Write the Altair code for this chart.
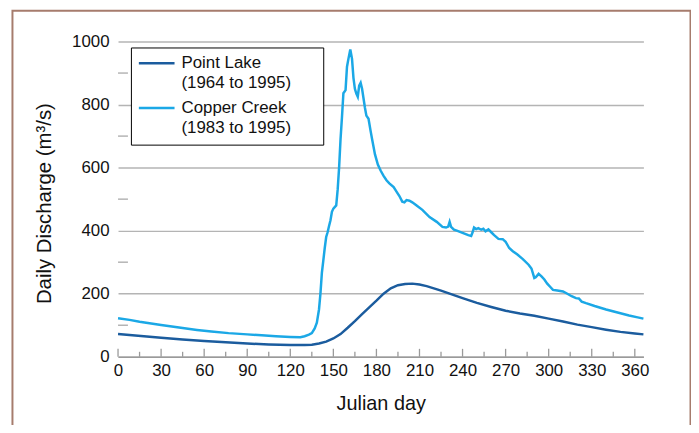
import altair as alt
import pandas as pd

FONT = "Liberation Sans, Arial, Helvetica, sans-serif"

series_names = ["Point Lake", "Copper Creek"]
series_periods = ["(1964 to 1995)", "(1983 to 1995)"]
series_colors = ["#1b5c9e", "#1ba8e6"]

pl_day = [0, 10, 20, 30, 45, 60, 75, 90, 105, 120, 130, 135, 140, 145, 150, 155, 160,
          165, 170, 175, 180, 185, 190, 195, 200, 205, 210, 215, 220, 225, 230, 235,
          240, 250, 260, 270, 280, 290, 300, 310, 320, 330, 340, 350, 360, 366]
pl_q = [72, 68, 64, 60, 55, 50, 46, 42, 39, 37, 37, 38, 42, 48, 58, 72, 92,
        113, 135, 157, 178, 200, 217, 227, 231, 232, 229, 224, 217, 210, 202, 194,
        186, 171, 158, 146, 137, 130, 121, 112, 102, 94, 86, 79, 74, 71]

cc_day = [0, 8, 15, 30, 45, 55, 65, 77, 90, 100, 110, 120, 127, 130, 133, 135, 137,
          138.5, 140, 141, 142, 143, 144, 145, 146, 147, 148, 149, 150, 152, 153, 154,
          155, 156, 157, 158.5, 159.5, 160.5, 161.8, 163, 164, 165, 166, 167, 168, 169,
          170, 171, 172, 173, 174.5, 176, 177, 179, 181, 183, 185, 187, 189, 192, 194,
          196, 198, 199.5, 201, 203, 205, 208, 212, 217, 222, 226, 228.5, 230, 231, 232,
          234, 236, 240, 244, 246, 247, 248, 249.5, 251, 253, 254.5, 256, 258, 260, 262,
          265, 268, 270, 272.5, 275, 278, 282, 286, 288, 290, 291, 293, 295, 297, 299,
          301, 303, 306, 310, 313, 316, 319, 321, 323, 326, 332, 340, 344, 350, 356, 362, 366]
cc_q = [122, 117, 111, 101, 91, 85, 80, 75, 71, 68, 65, 63, 62, 65, 70, 75, 90,
        108, 150, 200, 266, 305, 345, 380, 395, 415, 433, 460, 470, 480, 530, 600,
        690, 760, 836, 846, 920, 945, 975, 945, 885, 850, 835, 825, 860, 869,
        850, 820, 790, 765, 755, 715, 690, 642, 610, 590, 574, 560, 550, 538, 524,
        510, 492, 490, 497, 495, 490, 480, 466, 443, 428, 412, 410, 413, 428, 412,
        403, 400, 393, 386, 383, 395, 410, 405, 408, 403, 406, 398, 404, 395, 386,
        374, 373, 365, 345, 335, 325, 310, 292, 280, 250, 252, 263, 255, 245, 232,
        222, 212, 210, 207, 200, 192, 186, 185, 175, 170, 161, 150, 145, 138, 131, 125, 121]

x_ticks = [0, 30, 60, 90, 120, 150, 180, 210, 240, 270, 300, 330, 360]
x_minor = [15, 45, 75, 105, 135, 165, 195, 225, 255, 285, 315, 345]
y_ticks = [0, 200, 400, 600, 800, 1000]
y_minor = [100, 300, 500, 700, 900]

W, H = 530, 318
GRID = "#b4b4b4"
AXIS = "#9a9a9a"
TEXT = "#111111"

df = pd.concat([
    pd.DataFrame({"day": pl_day, "q": pl_q, "series": series_names[0]}),
    pd.DataFrame({"day": cc_day, "q": cc_q, "series": series_names[1]}),
])

x_enc = alt.X("day:Q", scale=alt.Scale(domain=[0, 366], nice=False, zero=False),
              axis=alt.Axis(values=x_ticks, title="Julian day", grid=False, ticks=False,
                            domainColor=AXIS, domainWidth=1.5, labelPadding=6,
                            labelFontSize=17, titleFontSize=20, titlePadding=15,
                            labelFlush=False))
y_enc = alt.Y("q:Q", scale=alt.Scale(domain=[0, 1000], nice=False),
              axis=alt.Axis(values=y_ticks, format="d", title="Daily Discharge (m³/s)",
                            grid=True, gridColor=GRID, gridWidth=1.5, ticks=False,
                            domain=False, labelPadding=9, labelFontSize=17,
                            titleFontSize=20.5, titlePadding=17, titleY=163))

one = alt.Data(values=[{}])

frame = alt.Chart(one).mark_rect(
    filled=False, stroke="#a67c6d", strokeWidth=2
).encode(x=alt.value(-106.5), x2=alt.value(577.5), y=alt.value(-31), y2=alt.value(520))

lines = alt.Chart(df).mark_line(strokeWidth=2.5).encode(
    x=x_enc,
    y=y_enc,
    color=alt.Color("series:N", legend=None,
                    scale=alt.Scale(domain=series_names, range=series_colors)),
    order=alt.Order("day:Q"),
)

major = alt.Chart(pd.DataFrame({"day": x_ticks})).mark_rule(color=AXIS, strokeWidth=1.3).encode(
    x="day:Q", y=alt.value(H), y2=alt.value(H - 8))
minor = alt.Chart(pd.DataFrame({"day": x_minor})).mark_rule(color=AXIS, strokeWidth=1.3).encode(
    x="day:Q", y=alt.value(H), y2=alt.value(H - 5))
yminor = alt.Chart(pd.DataFrame({"q": y_minor})).mark_rule(color=GRID, strokeWidth=1.5).encode(
    y="q:Q", x=alt.value(0), x2=alt.value(10))

# legend box (drawn on top of gridlines)
legend_layers = [
    alt.Chart(one).mark_rect(fill="white", stroke="black", strokeWidth=1).encode(
        x=alt.value(13.5), x2=alt.value(207.5), y=alt.value(6.5), y2=alt.value(104.5))
]
for i, (name, period, col) in enumerate(zip(series_names, series_periods, series_colors)):
    y0 = 22 + 45 * i
    legend_layers.append(
        alt.Chart(one).mark_rule(color=col, strokeWidth=2.5).encode(
            x=alt.value(21), x2=alt.value(57), y=alt.value(y0)))
    legend_layers.append(
        alt.Chart(one).mark_text(align="left", baseline="middle", fontSize=17, font=FONT,
                                 color=TEXT, text=name).encode(
            x=alt.value(64), y=alt.value(y0)))
    legend_layers.append(
        alt.Chart(one).mark_text(align="left", baseline="middle", fontSize=17, font=FONT,
                                 color=TEXT, text=period).encode(
            x=alt.value(64), y=alt.value(y0 + 20)))

chart = alt.layer(frame, yminor, major, minor, lines, *legend_layers).properties(
    width=W, height=H,
    autosize=alt.AutoSizeParams(type="none"),
    padding={"left": 111, "top": 32, "right": 48, "bottom": 67},
).configure(font=FONT).configure_view(stroke=None).configure_axis(
    labelColor=TEXT, titleColor=TEXT, titleFontWeight="normal", labelFont=FONT, titleFont=FONT
)

chart.save("out.html", embed_options={"renderer": "svg", "actions": False})
